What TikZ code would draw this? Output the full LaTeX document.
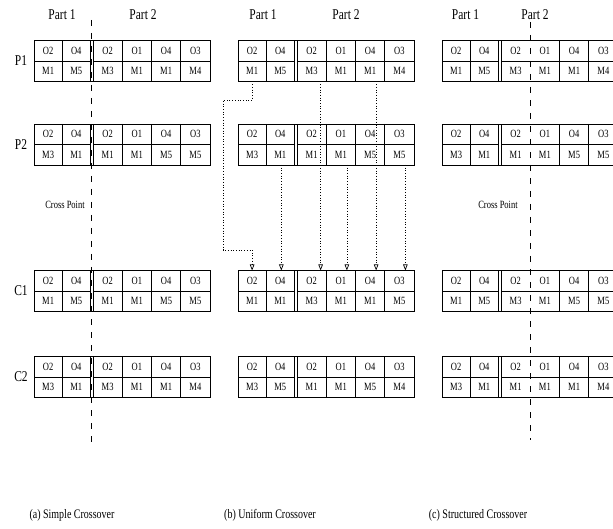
\documentclass[tikz,border=0pt]{standalone}
\usepackage{fontspec}
\setmainfont{Liberation Serif}
\usepackage{tikz}
\usetikzlibrary{arrows.meta, calc}

% text in the figure is drawn a bit taller than wide
\newcommand{\tall}[1]{\scalebox{1}[1.3]{#1}}

% one chromosome: #1 name, #2 left x, #3 top y, #4 operation/machine pairs,
% #5 inner border that is left out (0 = none)
\newcommand{\chromrow}[5]{%
  \foreach \oper/\mach [count=\i] in {#4} {
    \pgfmathsetmacro{\cx}{#2 + (\i<3 ? 14.1+28.2*(\i-1) : 73.625+29.25*(\i-3))}
    \pgfmathsetmacro{\cw}{\i<3 ? 28.2 : 29.25}
    \node[gene, minimum width=\cw pt] (#1o\i) at (\cx, #3+10.25) {\tall{\oper}};
    \node[gene, minimum width=\cw pt] (#1m\i) at (\cx, #3+30.75) {\tall{\mach}};
  }
  \draw (#1o1.north west) rectangle (#1m2.south east);
  \draw (#1o3.north west) rectangle (#1m6.south east);
  \draw (#1o2.north east) -- (#1o3.north west) (#1m2.south east) -- (#1m3.south west);
  \draw (#1o1.south west) -- (#1o2.south east) (#1o3.south west) -- (#1o6.south east);
  \draw (#1o1.north east) -- (#1m1.south east);
  \foreach \k in {3,4,5} {
    \ifnum\k=#5\else \draw (#1o\k.north east) -- (#1m\k.south east); \fi
  }
}

\begin{document}
\begin{tikzpicture}[x=1pt, y=-1pt, line width=0.7pt,
    gene/.style={inner sep=0, outer sep=0, minimum height=20.5pt,
      font=\fontsize{8.5}{9}\selectfont},
    rowlabel/.style={font=\fontsize{11.5}{12}\selectfont},
    partlabel/.style={font=\fontsize{11.5}{12}\selectfont},
    crosslabel/.style={font=\fontsize{8.5}{9}\selectfont},
    caption/.style={font=\fontsize{10}{11}\selectfont},
    cutline/.style={dash pattern=on 6pt off 7pt},
    link/.style={dotted, -{Triangle[open, length=6pt, width=4.5pt]}}]
  \useasboundingbox (0,0) rectangle (613,529);

  % --- (a) simple crossover ---
  \chromrow{ap1}{34}{40.5}{O2/M1, O4/M5, O2/M3, O1/M1, O4/M1, O3/M4}{0}
  \chromrow{ap2}{34}{124}{O2/M3, O4/M1, O2/M1, O1/M1, O4/M5, O3/M5}{0}
  \chromrow{ac1}{34}{270.5}{O2/M1, O4/M5, O2/M1, O1/M1, O4/M5, O3/M5}{0}
  \chromrow{ac2}{34}{356.5}{O2/M3, O4/M1, O2/M3, O1/M1, O4/M1, O3/M4}{0}
  \node[rowlabel] (lp1) at (21,61) {\tall{P1}};
  \node[rowlabel] (lp2) at (21,144.5) {\tall{P2}};
  \node[rowlabel] (lc1) at (21,291) {\tall{C1}};
  \node[rowlabel] (lc2) at (21,377) {\tall{C2}};
  \node[partlabel] (apart1) at (62,15) {\tall{Part 1}};
  \node[partlabel] (apart2) at (143,15) {\tall{Part 2}};
  \node[crosslabel] (across) at (65,205) {\tall{Cross Point}};
  \draw[cutline] (91.7,20) -- (91.7,443);
  \node[caption] (acap) at (72,515) {\tall{(a) Simple Crossover}};

  % --- (b) uniform crossover ---
  \chromrow{bp1}{238}{40.5}{O2/M1, O4/M5, O2/M3, O1/M1, O4/M1, O3/M4}{0}
  \chromrow{bp2}{238}{124}{O2/M3, O4/M1, O2/M1, O1/M1, O4/M5, O3/M5}{0}
  \chromrow{bc1}{238}{270.5}{O2/M1, O4/M1, O2/M3, O1/M1, O4/M1, O3/M5}{0}
  \chromrow{bc2}{238}{356.5}{O2/M3, O4/M5, O2/M1, O1/M1, O4/M5, O3/M4}{0}
  \node[partlabel] (bpart1) at (263,15) {\tall{Part 1}};
  \node[partlabel] (bpart2) at (346,15) {\tall{Part 2}};
  \draw[link] (bp1m1.south) -- ++(0,18.5) -| (223,250) -| (bc1o1.north);
  \foreach \src/\cell/\dx in {bp1/3/9, bp1/5/6, bp2/2/1, bp2/4/6, bp2/6/6}
    \draw[link] ([xshift=\dx pt]\src m\cell.south) -- ([xshift=\dx pt]bc1o\cell.north);
  \node[caption] (bcap) at (270,515) {\tall{(b) Uniform Crossover}};

  % --- (c) structured crossover ---
  \chromrow{cp1}{442}{40.5}{O2/M1, O4/M5, O2/M3, O1/M1, O4/M1, O3/M4}{3}
  \chromrow{cp2}{442}{124}{O2/M3, O4/M1, O2/M1, O1/M1, O4/M5, O3/M5}{3}
  \chromrow{cc1}{442}{270.5}{O2/M1, O4/M5, O2/M3, O1/M1, O4/M5, O3/M5}{3}
  \chromrow{cc2}{442}{356.5}{O2/M3, O4/M1, O2/M1, O1/M1, O4/M1, O3/M4}{3}
  \node[partlabel] (cpart1) at (465.5,15) {\tall{Part 1}};
  \node[partlabel] (cpart2) at (535,15) {\tall{Part 2}};
  \node[crosslabel] (ccross) at (498,205) {\tall{Cross Point}};
  \draw[cutline] (530.2,22) -- (530.2,440);
  \node[caption] (ccap) at (478,515) {\tall{(c) Structured Crossover}};
\end{tikzpicture}
\end{document}
